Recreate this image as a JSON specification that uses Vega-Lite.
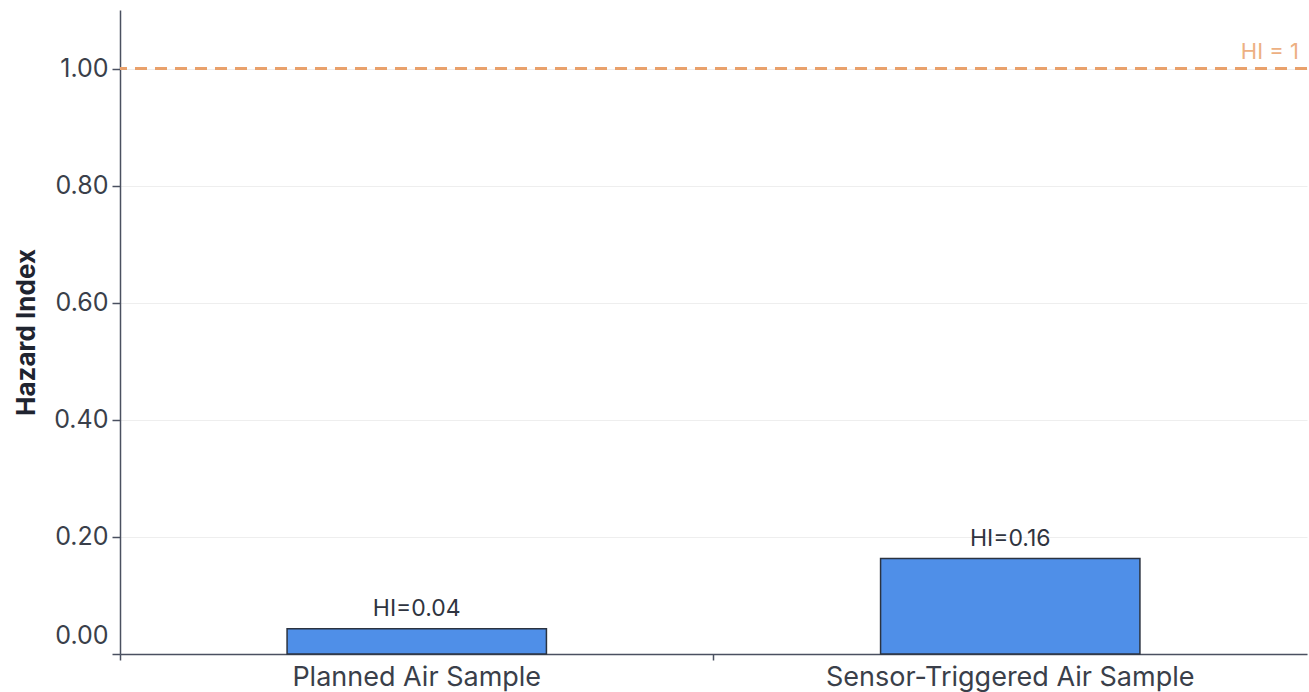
{
  "$schema": "https://vega.github.io/schema/vega-lite/v6.json",
  "width": 1187,
  "height": 644,
  "autosize": "none",
  "padding": {"left": 120, "top": 10, "right": 2, "bottom": 38},
  "config": {
    "font": "Inter",
    "view": {"stroke": null},
    "axis": {"labelFont": "Inter", "titleFont": "Inter"}
  },
  "data": {
    "values": [
      {"sample": "Planned Air Sample", "hi": 0.043, "label": "HI=0.04"},
      {"sample": "Sensor-Triggered Air Sample", "hi": 0.163, "label": "HI=0.16"}
    ]
  },
  "layer": [
    {
      "mark": {"type": "bar", "width": {"band": 0.437}, "fill": "#4F8FE8", "stroke": "#2b3340", "strokeWidth": 1.5},
      "encoding": {
        "x": {
          "field": "sample", "type": "nominal", "sort": null,
          "scale": {"paddingInner": 0, "paddingOuter": 0},
          "axis": {
            "title": null, "labelAngle": 0, "labelFontSize": 27, "labelColor": "#3a3f4a", "labelLimit": 0,
            "bandPosition": 0, "domainColor": "#4a5060", "domainWidth": 1.5,
            "tickColor": "#4a5060", "tickWidth": 1.5, "tickSize": 6, "labelPadding": 4, "grid": false
          }
        },
        "y": {
          "field": "hi", "type": "quantitative",
          "scale": {"domain": [0, 1.1], "nice": false},
          "axis": {
            "title": "Hazard Index", "titleFontSize": 26, "titleFontWeight": "bold", "titleColor": "#1f2430",
            "titlePadding": 14,
            "values": [0, 0.2, 0.4, 0.6, 0.8, 1.0], "format": ".2f",
            "labelFontSize": 25, "labelColor": "#3a3f4a", "labelPadding": 4,
            "labelFlush": true, "labelFlushOffset": -6,
            "domainColor": "#4a5060", "domainWidth": 1.5,
            "tickColor": "#4a5060", "tickWidth": 1.5, "tickSize": 8,
            "grid": true, "gridColor": "#eeeeee", "gridWidth": 1
          }
        }
      }
    },
    {
      "mark": {"type": "text", "baseline": "bottom", "dy": -8, "fontSize": 23, "color": "#2f3440"},
      "encoding": {
        "x": {"field": "sample", "type": "nominal", "sort": null},
        "y": {"field": "hi", "type": "quantitative"},
        "text": {"field": "label"}
      }
    },
    {
      "data": {"values": [{"ref": 1.0, "sample": "Sensor-Triggered Air Sample", "txt": "HI = 1"}]},
      "layer": [
        {
          "mark": {"type": "rule", "color": "#E9A16B", "strokeWidth": 3, "strokeDash": [12, 8]},
          "encoding": {"y": {"field": "ref", "type": "quantitative"}}
        },
        {
          "mark": {"type": "text", "align": "right", "baseline": "bottom", "dx": -8, "dy": -5, "fontSize": 22, "color": "#EDB083"},
          "encoding": {
            "x": {"field": "sample", "type": "nominal", "sort": null, "bandPosition": 1},
            "y": {"field": "ref", "type": "quantitative"},
            "text": {"field": "txt"}
          }
        }
      ]
    }
  ]
}
